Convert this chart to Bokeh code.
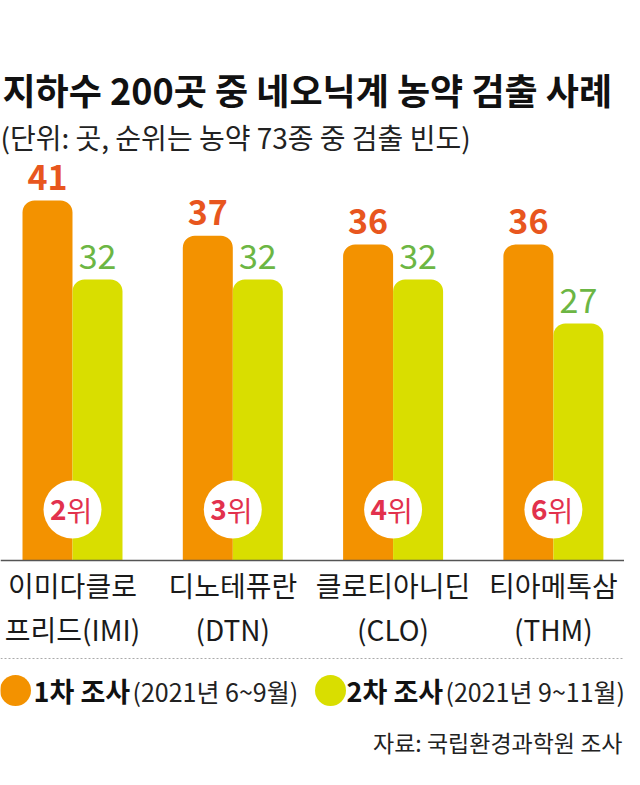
from bokeh.plotting import figure
from bokeh.models import Range1d, Label, Span, ColumnDataSource
from bokeh.core.properties import value
from bokeh.embed import file_html
from bokeh.resources import INLINE

# ---- data ----
categories_line1 = ["이미다클로", "디노테퓨란", "클로티아니딘", "티아메톡삼"]
categories_line2 = ["프리드(IMI)", "(DTN)", "(CLO)", "(THM)"]
survey1 = [41, 37, 36, 36]
survey2 = [32, 32, 32, 27]
rank_num = ["2", "3", "4", "6"]
rank_suffix = ["위", "위", "위", "위"]

title = "지하수 200곳 중 네오닉계 농약 검출 사례"
subtitle = "(단위: 곳, 순위는 농약 73종 중 검출 빈도)"
legend1_bold, legend1_rest = "1차 조사", "(2021년 6~9월)"
legend2_bold, legend2_rest = "2차 조사", "(2021년 9~11월)"
source_text = "자료: 국립환경과학원 조사"

# ---- style ----
W, H = 624, 769
FONT = "Noto Sans CJK KR"
ORANGE = "#F39200"
LIME = "#D9DE00"
VAL_ORANGE = "#E8561E"
VAL_GREEN = "#6CB644"
RANK = "#E2314D"
TXT = "#1a1a1a"

PX_PER_UNIT = 8.78       # pixels per count
BASE_FROM_TOP = 560      # baseline position from top of canvas
GROUP_PX = 160.3
FIRST_CENTER = 72
BAR_W = 50 / GROUP_PX

y_top = BASE_FROM_TOP / PX_PER_UNIT
y_bot = -(H - BASE_FROM_TOP) / PX_PER_UNIT
x_start = -FIRST_CENTER / GROUP_PX
x_end = (W - FIRST_CENTER) / GROUP_PX


def dy(px_from_top):
    """vertical layout position (pixels from top) -> data units"""
    return (BASE_FROM_TOP - px_from_top) / PX_PER_UNIT


def dx(px_from_left):
    return (px_from_left - FIRST_CENTER) / GROUP_PX


def sy(px_from_top):
    """pixels from top -> screen units from bottom"""
    return H - px_from_top


p = figure(width=W, height=H, x_range=Range1d(x_start, x_end), y_range=Range1d(y_bot, y_top),
           x_axis_type=None, y_axis_type=None, toolbar_location=None,
           output_backend="svg", min_border=0)
p.outline_line_color = None
p.grid.visible = False
p.background_fill_color = "white"
p.border_fill_color = "white"

idx = list(range(len(survey1)))
half = BAR_W / 2
src = ColumnDataSource(dict(
    x1=[i - half for i in idx], x2=[i + half for i in idx], xc=idx,
    s1=survey1, s2=survey2,
    t1=[str(v) for v in survey1], t2=[str(v) for v in survey2],
    l1=categories_line1, l2=categories_line2,
    rn=rank_num, rs=rank_suffix,
    ry=[dy(509)] * len(idx),
    c1y=[dy(584)] * len(idx), c2y=[dy(628)] * len(idx),
))

p.vbar(x="x1", top="s1", bottom=0, width=BAR_W, source=src, fill_color=ORANGE,
       line_color=None, border_radius=(12, 12, 0, 0))
p.vbar(x="x2", top="s2", bottom=0, width=BAR_W, source=src, fill_color=LIME,
       line_color=None, border_radius=(12, 12, 0, 0))

p.text(x="x1", y="s1", text="t1", source=src, text_font=value(FONT), text_font_size="34px",
       text_font_style="bold", text_color=VAL_ORANGE, text_align="center",
       text_baseline="middle", y_offset=-23)
p.text(x="x2", y="s2", text="t2", source=src, text_font=value(FONT), text_font_size="34px",
       text_color=VAL_GREEN, text_align="center", text_baseline="middle", y_offset=-23)

# rank circles
p.scatter(x="xc", y="ry", size=58, source=src, fill_color="white", line_color=None)
p.text(x="xc", y="ry", text="rn", source=src, text_font=value(FONT), text_font_size="28px",
       text_font_style="bold", text_color=RANK, text_align="right", text_baseline="middle",
       x_offset=-6)
p.text(x="xc", y="ry", text="rs", source=src, text_font=value(FONT), text_font_size="28px",
       text_color=RANK, text_align="left", text_baseline="middle", x_offset=-6)

# baseline
p.add_layout(Span(location=0, dimension="width", line_color="#555555", line_width=1.5))

# category labels
for col, ycol in (("l1", "c1y"), ("l2", "c2y")):
    p.text(x="xc", y=ycol, text=col, source=src, text_font=value(FONT), text_font_size="28px",
           text_color=TXT, text_align="center", text_baseline="middle")

# dotted separator
p.add_layout(Span(location=dy(658), dimension="width", line_color="#aaaaaa",
                  line_width=1, line_dash="2 2"))

# title / subtitle
p.add_layout(Label(x=2, y=sy(88), x_units="screen", y_units="screen", text=title,
                   text_font=FONT, text_font_size="36px", text_font_style="bold",
                   text_color="#111111", text_baseline="middle"))
p.add_layout(Label(x=0, y=sy(136), x_units="screen", y_units="screen", text=subtitle,
                   text_font=FONT, text_font_size="28px", text_color="#222222",
                   text_baseline="middle"))

# legend
p.scatter(x=[dx(15), dx(330)], y=[dy(690)] * 2, size=31,
          fill_color=[ORANGE, LIME], line_color=None)
for xb, tb, xr, tr in ((33, legend1_bold, 132, legend1_rest), (346, legend2_bold, 445, legend2_rest)):
    p.add_layout(Label(x=xb, y=sy(690), x_units="screen", y_units="screen", text=tb,
                       text_font=FONT, text_font_size="27px", text_font_style="bold",
                       text_color="#111111", text_baseline="middle"))
    p.add_layout(Label(x=xr, y=sy(690), x_units="screen", y_units="screen", text=tr,
                       text_font=FONT, text_font_size="25px", text_color="#222222",
                       text_baseline="middle"))

# source
p.add_layout(Label(x=W - 2, y=sy(741), x_units="screen", y_units="screen", text=source_text,
                   text_font=FONT, text_font_size="23px", text_color="#222222",
                   text_align="right", text_baseline="middle"))

open("out.html", "w").write(file_html(p, INLINE))
